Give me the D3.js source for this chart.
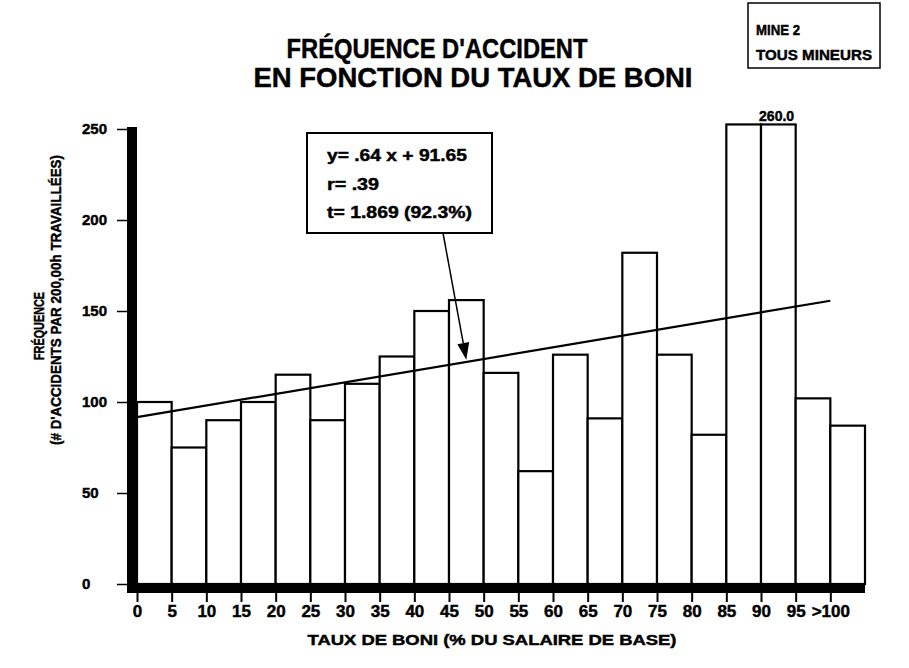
<!doctype html>
<html lang="fr">
<head>
  <meta charset="utf-8">
  <title>Fréquence d'accident en fonction du taux de boni</title>
  <script src="https://cdn.jsdelivr.net/npm/d3@7"></script>
  <style>
    body { margin: 0; background: #fff; }
    svg { font-family: "Liberation Sans", Arial, Helvetica, sans-serif; font-weight: bold; }
    svg text { stroke: #000; stroke-width: 0.45px; }
  </style>
</head>
<body>
<svg id="chart" width="909" height="668"></svg>
<script>
  // classes de taux de boni (etiquettes de l'axe x)
  var tickLabels = ["0", "5", "10", "15", "20", "25", "30", "35", "40", "45", "50",
                    "55", "60", "65", "70", "75", "80", "85", "90", "95", ">100"];
  // frequence d'accident par classe (par 200,000h travaillees)
  var frequence = [100, 75, 90, 100, 115, 90, 110, 125, 150, 156, 116,
                   62, 126, 91, 182, 126, 82, 260, 260, 102, 87];
  var yTicks = [0, 50, 100, 150, 200, 250];
  // droite de regression y = .64 x + 91.65
  var pente = 0.64, ordonnee = 91.65;
  var annotation = ["y= .64  x  + 91.65", "r= .39", "t= 1.869 (92.3%)"];
  var annotLong = [140, 52, 145];

  var svg = d3.select("#chart");

  // x : index de classe (chaque classe = 5 points de boni)
  var x = d3.scaleLinear().domain([0, 21]).range([137, 865]);
  var y = d3.scaleLinear().domain([0, 250]).range([584, 129]);
  var boni = function(v) { return x(v / 5); };

  // titre
  svg.append("text").attr("x", 437).attr("y", 58).attr("text-anchor", "middle")
     .attr("font-size", 27).attr("textLength", 301).attr("lengthAdjust", "spacingAndGlyphs")
     .text("FRÉQUENCE D'ACCIDENT");
  svg.append("text").attr("x", 473).attr("y", 87).attr("text-anchor", "middle")
     .attr("font-size", 27).attr("textLength", 439).attr("lengthAdjust", "spacingAndGlyphs")
     .text("EN FONCTION DU TAUX DE BONI");

  // encadre mine
  svg.append("rect").attr("x", 748).attr("y", 3).attr("width", 132).attr("height", 65)
     .attr("fill", "none").attr("stroke", "#000").attr("stroke-width", 1.5);
  svg.append("text").attr("x", 756).attr("y", 35).attr("font-size", 15)
     .attr("textLength", 44).attr("lengthAdjust", "spacingAndGlyphs").text("MINE 2");
  svg.append("text").attr("x", 756).attr("y", 60).attr("font-size", 15)
     .attr("textLength", 116).attr("lengthAdjust", "spacingAndGlyphs").text("TOUS MINEURS");

  // barres
  svg.selectAll(".bar")
     .data(frequence)
     .enter().append("rect")
     .attr("class", "bar")
     .attr("x", function(d, i) { return x(i); })
     .attr("y", function(d) { return y(Math.min(d, 252.5)); })
     .attr("width", function(d, i) { return x(i + 1) - x(i); })
     .attr("height", function(d) { return y(0) - y(Math.min(d, 252.5)); })
     .attr("fill", "#fff").attr("stroke", "#000").attr("stroke-width", 2.2);

  // valeur hors echelle
  var hors = frequence.lastIndexOf(d3.max(frequence));
  svg.append("text").attr("x", x(hors + 0.45)).attr("y", 121).attr("text-anchor", "middle")
     .attr("font-size", 14).text(d3.max(frequence).toFixed(1));

  // droite de regression
  svg.append("line")
     .attr("x1", boni(0)).attr("y1", y(ordonnee))
     .attr("x2", boni(100)).attr("y2", y(pente * 100 + ordonnee))
     .attr("stroke", "#000").attr("stroke-width", 2.2);

  // axes epais
  svg.append("rect").attr("x", 127).attr("y", 127).attr("width", 10).attr("height", 466).attr("fill", "#000");
  svg.append("rect").attr("x", 127).attr("y", 584).attr("width", 738).attr("height", 9).attr("fill", "#000");

  // axe y
  var yAxis = svg.append("g").attr("transform", "translate(127,0)")
     .call(d3.axisLeft(y).tickValues(yTicks).tickSize(10).tickFormat(d3.format("d")));
  yAxis.select(".domain").remove();
  yAxis.selectAll("line").attr("stroke", "#000").attr("stroke-width", 1.5);
  yAxis.selectAll("text").attr("x", -45).attr("text-anchor", "start")
     .attr("font-size", 15).attr("font-family", "Liberation Sans, Arial, sans-serif")
     .attr("font-weight", "bold").attr("fill", "#000");

  // axe x
  var xAxis = svg.append("g").attr("transform", "translate(0,593)")
     .call(d3.axisBottom(x).tickValues(d3.range(tickLabels.length)).tickSize(9)
       .tickFormat(function(i) { return tickLabels[i]; }));
  xAxis.select(".domain").remove();
  xAxis.selectAll("line").attr("stroke", "#000").attr("stroke-width", 2);
  xAxis.selectAll("text").attr("y", 12)
     .attr("font-size", 17).attr("font-family", "Liberation Sans, Arial, sans-serif")
     .attr("font-weight", "bold").attr("fill", "#000");

  // titres des axes
  svg.append("text").attr("x", 492).attr("y", 645).attr("text-anchor", "middle")
     .attr("font-size", 15).attr("textLength", 369).attr("lengthAdjust", "spacingAndGlyphs")
     .text("TAUX DE BONI (% DU SALAIRE DE BASE)");
  svg.append("text").attr("transform", "translate(44,326) rotate(-90)").attr("text-anchor", "middle")
     .attr("font-size", 15).attr("textLength", 68).attr("lengthAdjust", "spacingAndGlyphs")
     .text("FRÉQUENCE");
  svg.append("text").attr("transform", "translate(61,300) rotate(-90)").attr("text-anchor", "middle")
     .attr("font-size", 15).attr("textLength", 290).attr("lengthAdjust", "spacingAndGlyphs")
     .text("(# D'ACCIDENTS PAR 200,00h TRAVAILLÉES)");

  // encadre regression + fleche
  svg.append("rect").attr("x", 307).attr("y", 133).attr("width", 185).attr("height", 100)
     .attr("fill", "#fff").attr("stroke", "#000").attr("stroke-width", 2);
  svg.selectAll(".annot")
     .data(annotation)
     .enter().append("text")
     .attr("class", "annot")
     .attr("x", 327)
     .attr("y", function(d, i) { return 161 + i * 28.5; })
     .attr("font-size", 16)
     .attr("textLength", function(d, i) { return annotLong[i]; })
     .attr("lengthAdjust", "spacingAndGlyphs")
     .text(function(d) { return d; });

  var tipX = boni(47.5), tipY = y(pente * 47.5 + ordonnee) - 2;
  var baseX = 443, baseY = 233;
  var ang = Math.atan2(tipY - baseY, tipX - baseX);
  var len = 17, half = 6;
  var bx = tipX - len * Math.cos(ang), by = tipY - len * Math.sin(ang);
  svg.append("line").attr("x1", baseX).attr("y1", baseY).attr("x2", bx).attr("y2", by)
     .attr("stroke", "#000").attr("stroke-width", 1.5);
  svg.append("path")
     .attr("d", "M" + tipX + "," + tipY +
                "L" + (bx + half * Math.sin(ang)) + "," + (by - half * Math.cos(ang)) +
                "L" + (bx - half * Math.sin(ang)) + "," + (by + half * Math.cos(ang)) + "Z")
     .attr("fill", "#000");
</script>
</body>
</html>
